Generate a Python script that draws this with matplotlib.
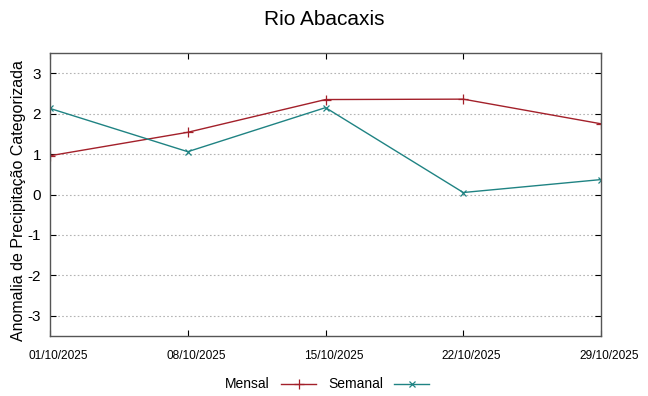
import numpy as np
import matplotlib.pyplot as plt
from matplotlib.transforms import ScaledTranslation
from datetime import datetime

plt.rcParams['font.family'] = ['Liberation Sans', 'DejaVu Sans']
plt.rcParams['axes.unicode_minus'] = False

# dados
datas = ['01/10/2025', '08/10/2025', '15/10/2025', '22/10/2025', '29/10/2025']
mensal = [0.96, 1.54, 2.35, 2.36, 1.75]
semanal = [2.13, 1.06, 2.15, 0.05, 0.37]
yticks = [-3, -2, -1, 0, 1, 2, 3]

x = [datetime.strptime(d, '%d/%m/%Y') for d in datas]

fig = plt.figure(figsize=(6.48, 3.96), dpi=100)
ax = fig.add_axes([0.0772, 0.1515, 0.8503, 0.7145])

ax.plot(x, mensal, color='#a3202a', lw=1.0, marker='+', ms=7, mew=0.9, label='Mensal')
ax.plot(x, semanal, color='#1f8383', lw=1.0, marker='x', ms=5, mew=0.9, label='Semanal')

ax.set_xlim(x[0], x[-1])
ax.set_ylim(-3.5, 3.5)
ax.set_xticks(x)
ax.set_xticklabels([])
# rótulos das datas, um pouco deslocados para a direita (estilo gnuplot)
off = ScaledTranslation(8 / 100, -20 / 100, fig.dpi_scale_trans)
for xi, d in zip(x, datas):
    ax.text(xi, 0, d, transform=ax.get_xaxis_transform() + off,
            ha='center', va='center', fontsize=8.6, clip_on=False)
ax.set_yticks(yticks)
ax.tick_params(axis='y', labelsize=11, direction='in', right=True, length=4, pad=6.5)
ax.tick_params(axis='x', direction='in', top=True, length=4)
ax.grid(axis='y', color='#b4b4b4', ls=(0, (1.5, 2)), lw=0.8)
for s in ax.spines.values():
    s.set_color('#555555')
    s.set_linewidth(1.0)

ax.set_ylabel('Anomalia de Precipitação Categorizada', fontsize=11.5)
ax.yaxis.set_label_coords(-0.043, 0.48)
fig.suptitle('Rio Abacaxis', fontsize=15, y=0.975)

fig.legend(loc='lower center', bbox_to_anchor=(0.505, -0.02), ncol=2, frameon=False,
           markerfirst=False, fontsize=10, handlelength=2.5, handletextpad=0.8,
           columnspacing=0.9)

fig.savefig('out.png', dpi=100)
